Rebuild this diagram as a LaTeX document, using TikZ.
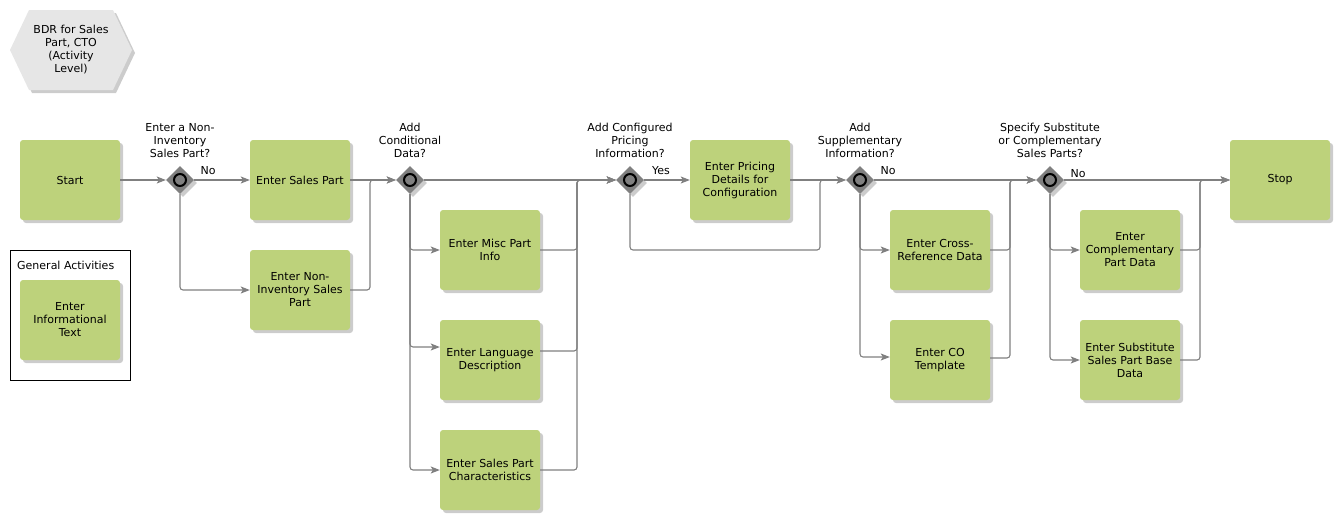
\documentclass[tikz,border=0pt]{standalone}
\usepackage{fontspec}
\setmainfont{DejaVu Sans}
\usetikzlibrary{shapes.geometric,arrows.meta,shadows}
\definecolor{actgreen}{HTML}{BDD27B}
\definecolor{gatefill}{HTML}{808080}
\definecolor{linegray}{HTML}{808080}
\definecolor{hexfill}{HTML}{E6E6E6}
\begin{document}
\begin{tikzpicture}[x=1pt,y=-1pt,
  every node/.style={font=\fontsize{11}{13}\selectfont},
  shad/.style={drop shadow={shadow xshift=3pt,shadow yshift=-3pt,fill=black,opacity=0.2}},
  act/.style={rectangle, rounded corners=3pt, fill=actgreen, minimum width=100pt, minimum height=80pt, align=center, inner sep=2pt, shad},
  gate/.style={diamond, fill=gatefill, minimum width=28pt, minimum height=28pt, inner sep=0pt, shad,
    path picture={\draw[line width=2pt,fill=gatefill] (path picture bounding box.center) circle (6pt);}},
  glabel/.style={align=center, inner sep=0pt, anchor=south},
  lbl/.style={inner sep=0pt},
  conn/.style={draw=linegray, line width=1.1pt, rounded corners=3pt},
  arr/.style={conn, -{Stealth[length=9pt,width=7pt,inset=2pt]}}
]
\useasboundingbox (0,0) rectangle (1340,520);

% title hexagon
\fill[hexfill, shad] (10,50) -- (29,10) -- (113,10) -- (132,50) -- (113,90) -- (29,90) -- cycle;
\node[align=center] (title) at (71,50) {BDR for Sales\\Part, CTO\\(Activity\\Level)};

% general activities
\draw[black, line width=0.8pt] (10,250) rectangle (130,380);
\node[lbl, anchor=west] (gatitle) at (17,265) {General Activities};
\node[act] (info) at (70,320) {Enter\\Informational\\Text};

% activities
\node[act] (start) at (70,180) {Start};
\node[act] (sp) at (300,180) {Enter Sales Part};
\node[act] (nisp) at (300,290) {Enter Non-\\Inventory Sales\\Part};
\node[act] (misc) at (490,250) {Enter Misc Part\\Info};
\node[act] (lang) at (490,360) {Enter Language\\Description};
\node[act] (chr) at (490,470) {Enter Sales Part\\Characteristics};
\node[act] (price) at (740,180) {Enter Pricing\\Details for\\Configuration};
\node[act] (xref) at (940,250) {Enter Cross-\\Reference Data};
\node[act] (co) at (940,360) {Enter CO\\Template};
\node[act] (comp) at (1130,250) {Enter\\Complementary\\Part Data};
\node[act] (sub) at (1130,360) {Enter Substitute\\Sales Part Base\\Data};
\node[act] (stop) at (1280,180) {Stop};

% gateways
\node[gate] (g1) at (180,180) {};
\node[gate] (g2) at (410,180) {};
\node[gate] (g3) at (630,180) {};
\node[gate] (g4) at (860,180) {};
\node[gate] (g5) at (1050,180) {};

\node[glabel] (l1) at ([yshift=8pt]g1.north) {Enter a Non-\\Inventory\\Sales Part?};
\node[glabel] (l2) at ([yshift=8pt]g2.north) {Add\\Conditional\\Data?};
\node[glabel] (l3) at ([yshift=8pt]g3.north) {Add Configured\\Pricing\\Information?};
\node[glabel] (l4) at ([yshift=8pt]g4.north) {Add\\Supplementary\\Information?};
\node[glabel] (l5) at ([yshift=8pt]g5.north) {Specify Substitute\\or Complementary\\Sales Parts?};

\node[lbl] (no1) at (208,171) {No};
\node[lbl] (yes3) at (661,171) {Yes};
\node[lbl] (no4) at (888,171) {No};
\node[lbl] (no5) at (1078,174) {No};

% merge coordinates
\coordinate (m1) at (370,180);
\coordinate (m2) at (577,180);
\coordinate (lp) at (820,250);
\coordinate (m3) at (820,180);
\coordinate (m4) at (1010,180);
\coordinate (m5) at (1200,180);

% connectors
\draw[arr] (start.east) -- (g1.west);
\draw[arr] (g1.east) -- (sp.west);
\draw[arr] (g1.south) |- (nisp.west);
\draw[arr] (sp.east) -- (g2.west);
\draw[arr] (nisp.east) -| (m1) -- (g2.west);

\draw[arr] (g2.east) -- (g3.west);
\draw[arr] (g2.south) |- (misc.west);
\draw[arr] (g2.south) |- ([yshift=13pt]lang.west);
\draw[arr] (g2.south) |- (chr.west);
\draw[arr] (misc.east) -| (m2) -- (g3.west);
\draw[arr] ([yshift=9pt]lang.east) -| (m2) -- (g3.west);
\draw[arr] (chr.east) -| (m2) -- (g3.west);

\draw[arr] (g3.east) -- (price.west);
\draw[arr] (g3.south) |- (lp) -- (m3) -- (g4.west);
\draw[arr] (price.east) -- (g4.west);

\draw[arr] (g4.east) -- (g5.west);
\draw[arr] (g4.south) |- (xref.west);
\draw[arr] (g4.south) |- ([yshift=3pt]co.west);
\draw[arr] (xref.east) -| (m4) -- (g5.west);
\draw[arr] ([yshift=2pt]co.east) -| (m4) -- (g5.west);

\draw[arr] (g5.east) -- (stop.west);
\draw[arr] (g5.south) |- (comp.west);
\draw[arr] (g5.south) |- (sub.west);
\draw[arr] (comp.east) -| (m5) -- (stop.west);
\draw[arr] (sub.east) -| (m5) -- (stop.west);
\end{tikzpicture}
\end{document}
